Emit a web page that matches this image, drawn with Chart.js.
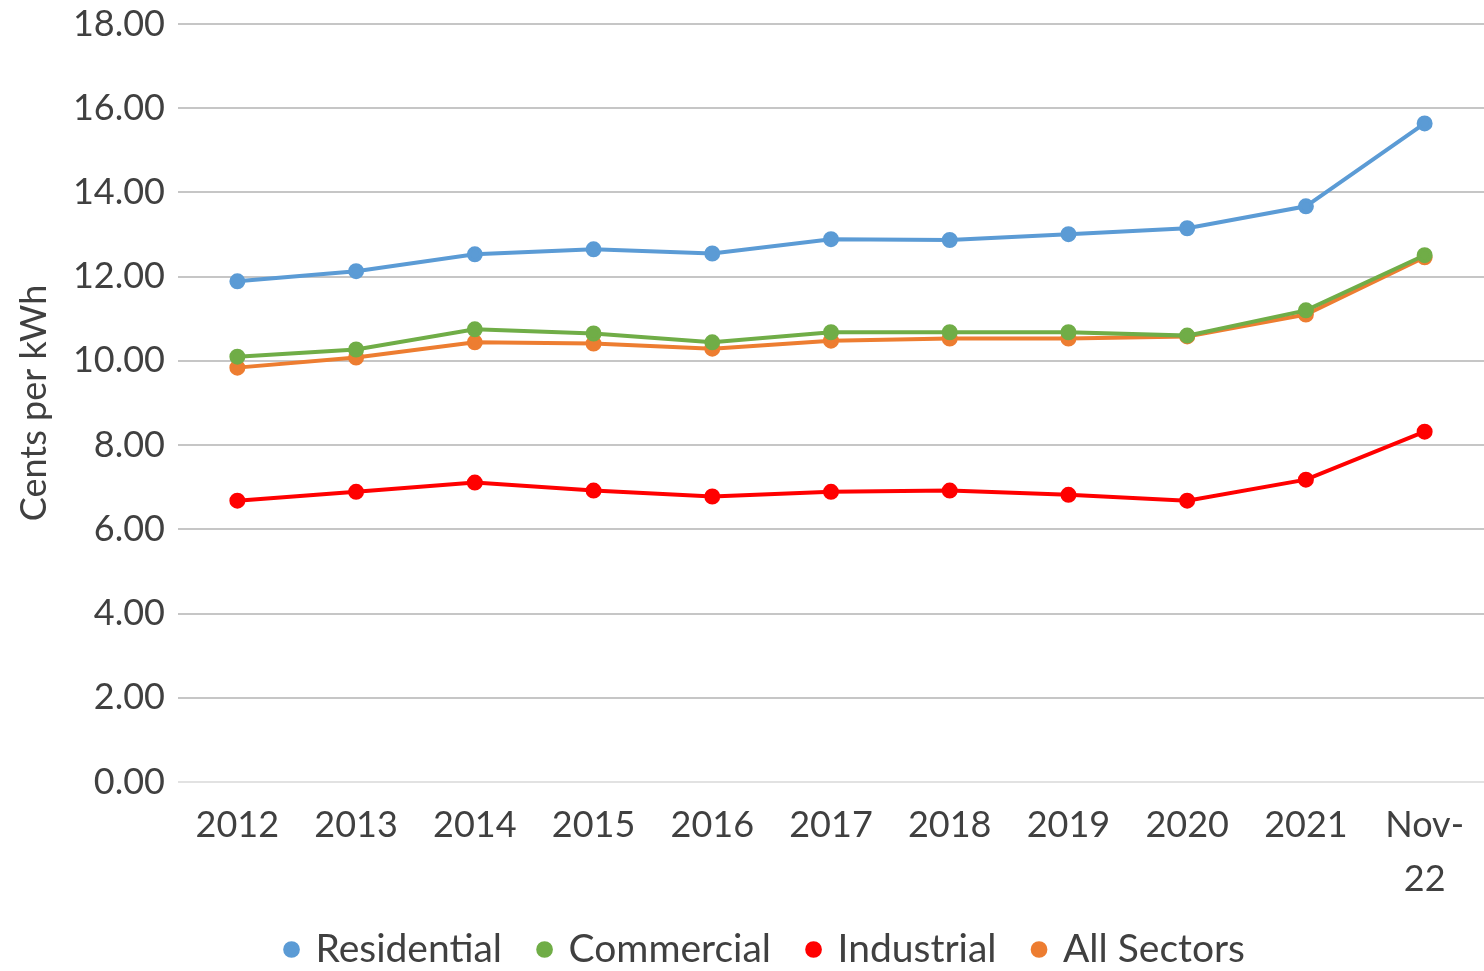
<!DOCTYPE html>
<html>
<head>
<meta charset="utf-8">
<script src="https://cdn.jsdelivr.net/npm/chart.js@4"></script>
<style>
  html, body { margin: 0; padding: 0; background: #fff; overflow: hidden; }
  #wrap { width: 1484px; height: 971px; position: relative; }
  canvas { display: block; }
</style>
</head>
<body>
<div id="wrap"><canvas id="priceChart"></canvas></div>
<script>
const categories = ['2012', '2013', '2014', '2015', '2016', '2017', '2018', '2019', '2020', '2021', ['Nov-', '22']];
const residential = [11.89, 12.13, 12.53, 12.65, 12.55, 12.89, 12.87, 13.01, 13.15, 13.67, 15.64];
const commercial  = [10.10, 10.27, 10.75, 10.65, 10.44, 10.68, 10.68, 10.68, 10.60, 11.20, 12.51];
const industrial  = [6.68, 6.89, 7.11, 6.92, 6.78, 6.89, 6.92, 6.82, 6.68, 7.18, 8.32];
const allSectors  = [9.84, 10.08, 10.44, 10.41, 10.29, 10.48, 10.53, 10.53, 10.58, 11.10, 12.46];
const yTicks = { min: 0, max: 18, step: 2 };

const FONT = 'Lato, "Open Sans", sans-serif';
const TEXT = '#404040';

function series(label, data, color) {
    return {
        label: label,
        data: data,
        borderColor: color,
        backgroundColor: color,
        borderWidth: 4,
        pointRadius: 6,
        pointHoverRadius: 6,
        pointStyle: 'circle',
        tension: 0
    };
}

// legend sits a little right of the canvas centre, under the plot
const legendShift = {
    id: 'legendShift',
    afterLayout(chart) {
        if (chart.legend) chart.legend.left += 48;
    }
};

const ctx = document.getElementById('priceChart').getContext('2d');
new Chart(ctx, {
    type: 'line',
    data: {
        labels: categories,
        datasets: [
            series('Residential', residential, '#5b9bd5'),
            series('Commercial', commercial, '#70ad47'),
            series('Industrial', industrial, '#ff0000'),
            series('All Sectors', allSectors, '#ed7d31')
        ]
    },
    plugins: [legendShift],
    options: {
        responsive: true,
        maintainAspectRatio: false,
        animation: false,
        layout: { autoPadding: false, padding: { top: 24, right: 0, bottom: -8, left: 0 } },
        plugins: {
            tooltip: { enabled: false },
            legend: {
                position: 'bottom',
                labels: {
                    usePointStyle: true,
                    boxWidth: 9,
                    boxHeight: 9,
                    padding: 38,
                    color: TEXT,
                    font: { family: FONT, size: 39 }
                }
            }
        },
        scales: {
            x: {
                offset: true,
                grid: { display: false },
                border: { display: false },
                ticks: {
                    color: TEXT,
                    padding: 8,
                    maxRotation: 0,
                    autoSkip: false,
                    font: { family: FONT, size: 36, lineHeight: 1.5 }
                },
                afterFit: s => { s.height = 110; s.paddingLeft = 0; s.paddingRight = 0; }
            },
            y: {
                min: yTicks.min,
                max: yTicks.max,
                grid: {
                    color: c => c.tick && c.tick.value === 0 ? '#e2e2e2' : '#c6c6c6',
                    lineWidth: 2,
                    drawTicks: false
                },
                border: { display: false },
                ticks: {
                    stepSize: yTicks.step,
                    padding: 13,
                    color: TEXT,
                    font: { family: FONT, size: 36 },
                    callback: v => v.toFixed(2)
                },
                title: {
                    display: true,
                    text: 'Cents per kWh',
                    color: TEXT,
                    font: { family: FONT, size: 36 },
                    padding: { top: 13, bottom: 0 }
                },
                afterFit: s => { s.width = 178; s.paddingTop = 0; s.paddingBottom = 0; }
            }
        }
    }
});
</script>
</body>
</html>
